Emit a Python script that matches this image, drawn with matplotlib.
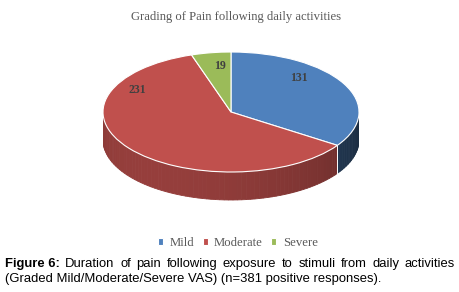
import numpy as np
import matplotlib
matplotlib.use("Agg")
import matplotlib.pyplot as plt
from matplotlib.colors import to_rgb

# ---- data ----
categories = ["Mild", "Moderate", "Severe"]
counts = [131, 231, 19]
colors = ["#4F81BD", "#C0504D", "#9BBB59"]
title = "Grading of Pain following daily activities"
caption_bold = "Figure 6:"
caption_line1 = "Duration of pain following exposure to stimuli from daily activities"
caption_line2 = "(Graded Mild/Moderate/Severe VAS) (n=381 positive responses)."

W, H = 460, 292
fig = plt.figure(figsize=(W / 100, H / 100), dpi=100)
fig.patch.set_facecolor("white")

# pie geometry in pixels (unit circle squashed to an ellipse)
cx, cy, rx, ry, depth = 231, 112, 128, 60, 28
top_px, bot_px = 40, 215
ax = fig.add_axes([(cx - rx) / W, 1 - bot_px / H, 2 * rx / W, (bot_px - top_px) / H])
d = depth / ry

# wedge angles (clockwise from 12 o'clock)
total = sum(counts)
spans = []
a = 90.0
for c in counts:
    sweep = 360.0 * c / total
    spans.append((a - sweep, a))
    a -= sweep

# side walls of the front half
for (lo, hi), col in zip(spans, colors):
    base = np.array(to_rgb(col))
    for k in (-1, 0, 1):
        f_lo, f_hi = -180 + 360 * k, 0 + 360 * k
        s, e = max(lo, f_lo), min(hi, f_hi)
        if e <= s:
            continue
        ts = np.linspace(s, e, int((e - s) / 2) + 2)
        for t0, t1 in zip(ts[:-1], ts[1:]):
            tm = np.radians((t0 + t1) / 2)
            shade = 0.62 + 0.16 * np.cos(tm - np.radians(230))
            if col == colors[0]:
                shade -= 0.18
            c2 = np.clip(base * shade, 0, 1)
            r0, r1 = np.radians(t0), np.radians(t1)
            xs = [np.cos(r0), np.cos(r1), np.cos(r1), np.cos(r0)]
            ys = [np.sin(r0), np.sin(r1), np.sin(r1) - d, np.sin(r0) - d]
            ax.fill(xs, ys, color=c2, lw=0.6, ec=c2, zorder=1)
        # white edge at the slice boundary on the wall
        for t in (s, e):
            if -180 < (t - 360 * k) < 0:
                r = np.radians(t)
                ax.plot([np.cos(r)] * 2, [np.sin(r), np.sin(r) - d], color="white", lw=0.6, zorder=2)

wedges, _ = ax.pie(counts, colors=colors, startangle=90, counterclock=False,
                   wedgeprops=dict(edgecolor="white", linewidth=0.8))
for w in wedges:
    w.set_zorder(3)

# value labels
label_pos = [(0.53, 0.56), (-0.73, 0.36), (-0.09, 0.76)]
for (lx, ly), v in zip(label_pos, counts):
    ax.text(lx, ly, str(v), ha="center", va="center", fontsize=8.5,
            family="Liberation Serif", fontweight="bold", color="#404040", zorder=5)

ax.set_aspect("auto")
ax.set_xlim(-1, 1)
ax.set_ylim(-(bot_px - cy) / ry, (cy - top_px) / ry)
ax.axis("off")

# title
fig.text(236 / W, 1 - 17 / H, title, ha="center", va="center", fontsize=9.1,
         family="Liberation Serif", color="#595959")

# legend
leg = fig.legend(wedges, categories, loc="center", bbox_to_anchor=(238 / W, 1 - 243 / H),
                 ncol=3, frameon=False, handlelength=0.4, handleheight=0.4,
                 handletextpad=0.5, columnspacing=0.65, prop={"family": "Liberation Serif", "size": 9.2})
for t in leg.get_texts():
    t.set_color("#595959")

# caption
fig.canvas.draw()
renderer = fig.canvas.get_renderer()
fs = 9.35
left, right = 5, 455
y1, y2 = 1 - 264 / H, 1 - 279 / H
words = [caption_bold] + caption_line1.split()
items = []
total_w = 0
for i, wd in enumerate(words):
    t = fig.text(0, y1, wd, fontsize=fs, family="Liberation Sans",
                 fontweight="bold" if i == 0 else "normal", va="center", ha="left")
    wpx = t.get_window_extent(renderer).width
    items.append((t, wpx))
    total_w += wpx
gap = (right - left - total_w) / (len(words) - 1)
x = left
for t, wpx in items:
    t.set_x(x / W)
    x += wpx + gap
fig.text(left / W, y2, caption_line2, fontsize=fs, family="Liberation Sans", va="center", ha="left")

fig.savefig("out.png", dpi=100, facecolor="white")
